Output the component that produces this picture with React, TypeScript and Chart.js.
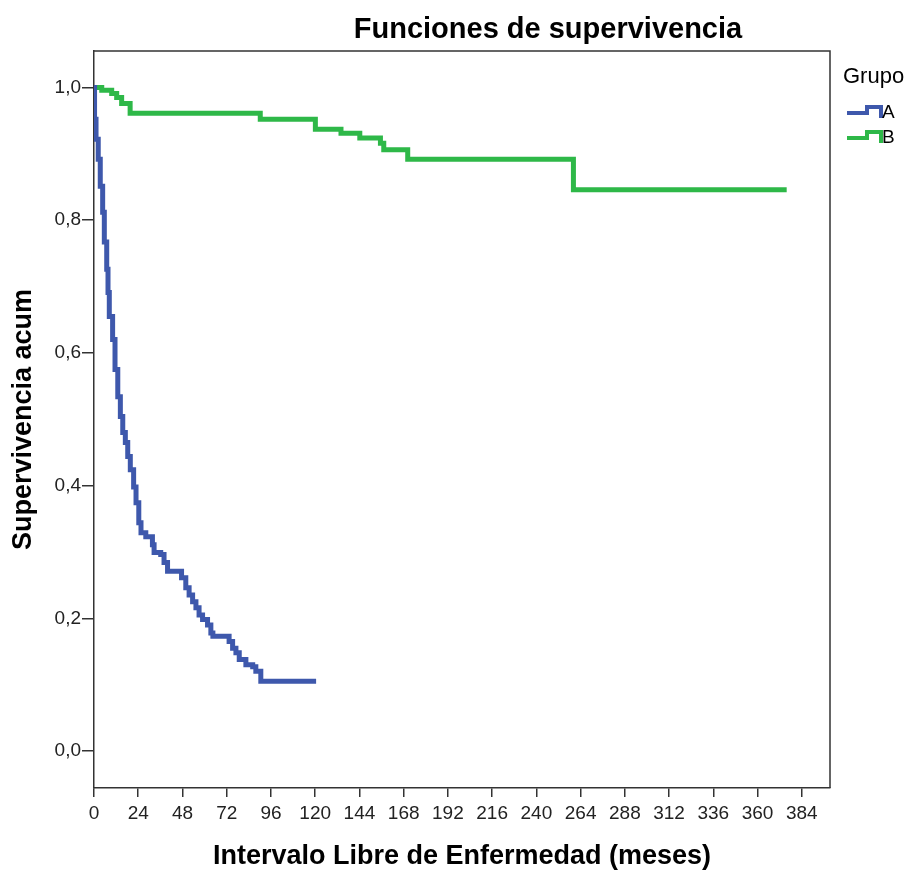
import { useEffect, useRef } from "react";
import { Chart, registerables } from "chart.js";

Chart.register(...registerables);

const chartTitle = "Funciones de supervivencia";
const xAxisTitle = "Intervalo Libre de Enfermedad (meses)";
const yAxisTitle = "Supervivencia acum";
const legendTitle = "Grupo";
const groupLabels = ["A", "B"];
const groupColors = ["#3E58AC", "#2EB848"];

const groupATimes = [
  0, 0.3, 1.1, 2.3, 3.4, 4.7, 5.6, 6.9, 7.6, 8.3, 10.1, 11.4, 12.9, 14.3, 15.6,
  17.0, 18.3, 19.7, 21.5, 22.8, 24.3, 25.5, 28.1, 31.7, 32.6, 36.2, 38.0, 39.9,
  47.5, 49.8, 51.6, 53.5, 55.3, 57.0, 58.9, 61.6, 63.4, 64.5, 73.3, 75.2, 77.0,
  78.8, 82.4, 86.1, 87.8, 90.5, 120.5,
];
const groupASurvival = [
  1.0, 0.952, 0.922, 0.892, 0.851, 0.812, 0.767, 0.726, 0.691, 0.655, 0.62,
  0.575, 0.534, 0.504, 0.48, 0.465, 0.444, 0.424, 0.398, 0.374, 0.344, 0.329,
  0.323, 0.311, 0.299, 0.296, 0.284, 0.271, 0.261, 0.246, 0.235, 0.225, 0.216,
  0.205, 0.198, 0.19, 0.178, 0.173, 0.165, 0.155, 0.148, 0.138, 0.13, 0.127,
  0.12, 0.105, 0.105,
];

const groupBTimes = [
  0, 4.2, 9.6, 12.3, 15.0, 19.6, 90.2, 120.1, 134.0, 144.2, 155.4, 157.2, 170.2,
  260.1, 375.8,
];
const groupBSurvival = [
  1.0, 0.996, 0.991, 0.985, 0.976, 0.961, 0.952, 0.937, 0.931, 0.924, 0.916,
  0.906, 0.892, 0.846, 0.846,
];

const xTickValues = [0, 24, 48, 72, 96, 120, 144, 168, 192, 216, 240, 264, 288, 312, 336, 360, 384];
const yTickValues = [0, 0.2, 0.4, 0.6, 0.8, 1.0];
const yTickLabels = ["0,0", "0,2", "0,4", "0,6", "0,8", "1,0"];

const FONT = "'Liberation Sans', Arial, Helvetica, sans-serif";

const titlePlugin = {
  id: "customTitle",
  afterDraw(chart: any) {
    const ctx = chart.ctx;
    ctx.save();
    ctx.font = `bold 29px ${FONT}`;
    ctx.fillStyle = "#000";
    ctx.textAlign = "center";
    ctx.textBaseline = "middle";
    ctx.fillText(chartTitle, chart.width * 0.6035, 30);
    ctx.restore();
  },
};

const framePlugin = {
  id: "frame",
  beforeDatasetsDraw(chart: any) {
    const { ctx, chartArea } = chart;
    ctx.save();
    ctx.strokeStyle = "#333";
    ctx.lineWidth = 1.5;
    ctx.beginPath();
    ctx.moveTo(chartArea.left, chartArea.top);
    ctx.lineTo(chartArea.right, chartArea.top);
    ctx.lineTo(chartArea.right, chartArea.bottom);
    ctx.stroke();
    ctx.restore();
  },
};

const legendPlugin = {
  id: "stepLegend",
  afterDraw(chart: any) {
    const { ctx, chartArea } = chart;
    const x0 = chartArea.right + 17;
    ctx.save();
    ctx.fillStyle = "#000";
    ctx.textBaseline = "middle";
    ctx.textAlign = "left";
    ctx.font = `22px ${FONT}`;
    ctx.fillText(legendTitle, x0 - 4, 77);
    chart.data.datasets.forEach((ds: any, i: number) => {
      const by = 113 + i * 25;
      ctx.strokeStyle = ds.borderColor;
      ctx.lineWidth = 4;
      ctx.lineJoin = "miter";
      ctx.beginPath();
      ctx.moveTo(x0, by);
      ctx.lineTo(x0 + 20, by);
      ctx.lineTo(x0 + 20, by - 6);
      ctx.lineTo(x0 + 34, by - 6);
      ctx.lineTo(x0 + 34, by + 5);
      ctx.stroke();
      ctx.fillStyle = "#000";
      ctx.font = `19px ${FONT}`;
      ctx.fillText(ds.label, x0 + 35, by);
    });
    ctx.restore();
  },
};

function toPoints(times: number[], values: number[]) {
  return times.map((t, i) => ({ x: t, y: values[i] }));
}

export default function App() {
  const canvasRef = useRef<HTMLCanvasElement | null>(null);

  useEffect(() => {
    if (!canvasRef.current) return;
    Chart.defaults.font.family = FONT;
    const chart = new Chart(canvasRef.current, {
      type: "line",
      data: {
        datasets: [
          {
            label: groupLabels[0],
            data: toPoints(groupATimes, groupASurvival),
            borderColor: groupColors[0],
            backgroundColor: groupColors[0],
            borderWidth: 5,
            pointRadius: 0,
            stepped: "before",
            fill: false,
            borderJoinStyle: "miter",
          },
          {
            label: groupLabels[1],
            data: toPoints(groupBTimes, groupBSurvival),
            borderColor: groupColors[1],
            backgroundColor: groupColors[1],
            borderWidth: 5,
            pointRadius: 0,
            stepped: "before",
            fill: false,
            borderJoinStyle: "miter",
          },
        ],
      },
      options: {
        animation: false,
        responsive: true,
        maintainAspectRatio: false,
        layout: { padding: { top: 51, right: 78, bottom: 0, left: 0 } },
        plugins: {
          legend: { display: false },
          title: { display: false },
          tooltip: { enabled: false },
        },
        scales: {
          x: {
            type: "linear",
            min: 0,
            max: 399.3,
            afterBuildTicks: (scale: any) => {
              scale.ticks = xTickValues.map((v) => ({ value: v }));
            },
            afterFit: (scale: any) => {
              scale.height = 82;
            },
            ticks: {
              color: "#222",
              font: { size: 19 },
              padding: 5,
              maxRotation: 0,
              autoSkip: false,
              callback: (v: any) => String(v),
            },
            grid: {
              display: true,
              drawOnChartArea: false,
              drawTicks: true,
              tickLength: 9,
              color: "#333",
              lineWidth: 1.5,
            },
            border: { display: true, color: "#333", width: 1.5 },
            title: {
              display: true,
              text: xAxisTitle,
              color: "#000",
              font: { size: 27, weight: "bold", lineHeight: 1 },
              padding: { top: 0, bottom: 0 },
            },
          },
          y: {
            type: "linear",
            min: -0.0558,
            max: 1.055,
            afterBuildTicks: (scale: any) => {
              scale.ticks = yTickValues.map((v) => ({ value: v }));
            },
            afterFit: (scale: any) => {
              scale.width = 94;
            },
            ticks: {
              color: "#222",
              font: { size: 19 },
              padding: 1,
              autoSkip: false,
              callback: (v: any) => {
                const idx = yTickValues.findIndex((t) => Math.abs(t - Number(v)) < 1e-9);
                return idx >= 0 ? yTickLabels[idx] : "";
              },
            },
            grid: {
              display: true,
              drawOnChartArea: false,
              drawTicks: true,
              tickLength: 12,
              color: "#333",
              lineWidth: 1.5,
            },
            border: { display: true, color: "#333", width: 1.5 },
            title: {
              display: true,
              text: yAxisTitle,
              color: "#000",
              font: { size: 27, weight: "bold", lineHeight: 1 },
              padding: { top: 10.5, bottom: 0 },
            },
          },
        },
      },
      plugins: [framePlugin, titlePlugin, legendPlugin],
    } as any);
    return () => chart.destroy();
  }, []);

  return (
    <div style={{ position: "fixed", left: 0, top: 0, width: 908, height: 870, background: "#fff" }}>
      <canvas ref={canvasRef} />
    </div>
  );
}
